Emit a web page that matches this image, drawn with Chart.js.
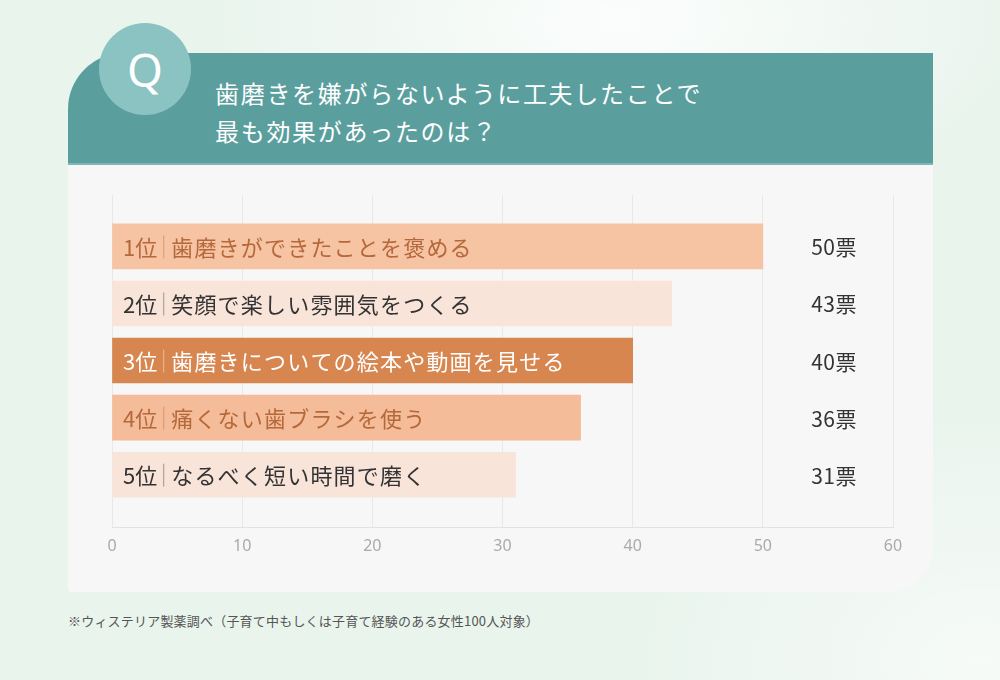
<!DOCTYPE html>
<html lang="ja">
<head>
<meta charset="utf-8">
<script src="https://cdn.jsdelivr.net/npm/chart.js@4.4.1/dist/chart.umd.min.js"></script>
<style>
  html, body { margin: 0; padding: 0; }
  body {
    width: 1000px; height: 680px; position: relative; overflow: hidden;
    font-family: "Noto Sans CJK JP", "Noto Sans", sans-serif;
    background:
      radial-gradient(ellipse 420px 200px at 620px 20px, rgba(255,255,255,0.85), rgba(255,255,255,0)),
      radial-gradient(ellipse 360px 260px at 980px 660px, rgba(255,255,255,0.6), rgba(255,255,255,0)),
      #e9f4ed;
  }
  .header {
    position: absolute; left: 68px; top: 53px; width: 865px; height: 110px;
    background: #5b9e9e; border-top-left-radius: 56px;
    border-bottom: 2px solid #7fb5b3;
  }
  .card {
    position: absolute; left: 68px; top: 165px; width: 865px; height: 427px;
    background: #f7f7f7; border-bottom-right-radius: 46px; border-bottom-left-radius: 4px;
  }
  .qbadge {
    position: absolute; left: 99px; top: 23px; width: 92px; height: 92px;
    border-radius: 50%; background: #8ac3c2; color: #fff;
    font: 400 46px "Noto Sans", sans-serif; line-height: 92px; text-align: center;
  }
  .title {
    position: absolute; left: 215px; top: 74px; color: #fff;
    font-size: 24px; line-height: 38px; letter-spacing: 1.7px;
  }
  .note {
    position: absolute; left: 68px; top: 611px; color: #555;
    font-size: 13px; letter-spacing: 0.2px;
  }
  #chart { position: absolute; left: 0; top: 0; }
</style>
</head>
<body>
<div class="header"></div>
<div class="card"></div>
<div class="qbadge">Q</div>
<div class="title">歯磨きを嫌がらないように工夫したことで<br>最も効果があったのは？</div>
<div class="note">※ウィステリア製薬調べ（子育て中もしくは子育て経験のある女性100人対象）</div>
<canvas id="chart" width="1000" height="680"></canvas>
<script>
const ranks = ['1位', '2位', '3位', '4位', '5位'];
const items = [
  '歯磨きができたことを褒める',
  '笑顔で楽しい雰囲気をつくる',
  '歯磨きについての絵本や動画を見せる',
  '痛くない歯ブラシを使う',
  'なるべく短い時間で磨く'
];
const votes = [50, 43, 40, 36, 31];
const voteUnit = '票';

const barColors = ['#f6c3a3', '#f9e4da', '#d8864f', '#f4bc98', '#f9e4da'];
const textColors = ['#b5683a', '#333333', '#ffffff', '#b5683a', '#333333'];

const barLabels = {
  id: 'barLabels',
  afterDatasetsDraw(chart) {
    const ctx = chart.ctx;
    const area = chart.chartArea;
    const meta = chart.getDatasetMeta(0);
    ctx.save();
    ctx.textBaseline = 'middle';
    meta.data.forEach((bar, i) => {
      const y = bar.y;
      ctx.font = '400 22px "Noto Sans CJK JP", sans-serif';
      ctx.letterSpacing = '0px';
      ctx.textAlign = 'left';
      ctx.fillStyle = textColors[i];
      let x = area.left + 11;
      ctx.fillText(ranks[i], x, y + 1);
      x += ctx.measureText(ranks[i]).width + 6;
      ctx.strokeStyle = textColors[i];
      ctx.globalAlpha = 0.45;
      ctx.lineWidth = 1;
      ctx.beginPath();
      ctx.moveTo(x + 0.5, y - 11);
      ctx.lineTo(x + 0.5, y + 12);
      ctx.stroke();
      ctx.globalAlpha = 1;
      ctx.letterSpacing = '1.2px';
      ctx.fillText(items[i], x + 8, y + 1);

      ctx.font = '400 21px "Noto Sans CJK JP", sans-serif';
      ctx.letterSpacing = '0.5px';
      ctx.textAlign = 'right';
      ctx.fillStyle = '#333333';
      ctx.fillText(votes[i] + voteUnit, area.right - 36, y + 1);
    });
    ctx.restore();
  }
};

new Chart(document.getElementById('chart'), {
  type: 'bar',
  data: {
    datasets: [{
      data: votes.map((v, i) => ({ x: v, y: i })),
      backgroundColor: barColors,
      borderWidth: 0,
      barThickness: 45
    }]
  },
  options: {
    indexAxis: 'y',
    responsive: false,
    animation: false,
    layout: { padding: { left: 112, right: 107, top: 195, bottom: 115 } },
    plugins: { legend: { display: false }, tooltip: { enabled: false } },
    scales: {
      x: {
        min: 0, max: 60,
        ticks: {
          stepSize: 10, padding: 9, color: '#aaaaaa',
          font: { family: '"Liberation Sans Narrow", "Noto Sans", sans-serif', size: 16 }
        },
        grid: { color: '#e8e8e8', drawTicks: false },
        border: { color: '#e2e2e2' }
      },
      y: {
        type: 'linear', reverse: true, min: -0.9, max: 4.93,
        offset: false, grid: { offset: false },
        display: false
      }
    }
  },
  plugins: [barLabels]
});
</script>
</body>
</html>
